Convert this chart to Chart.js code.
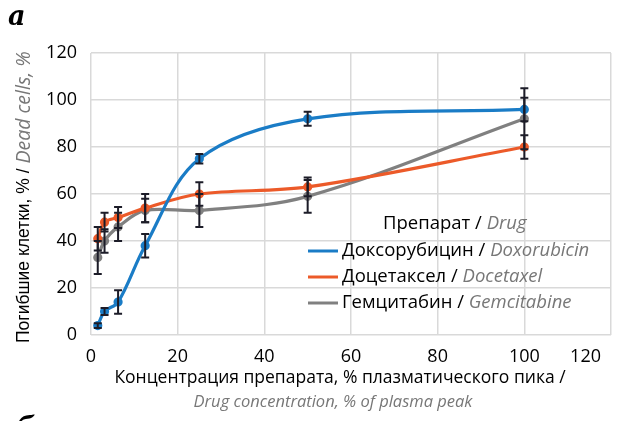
<!DOCTYPE html>
<html>
<head>
<meta charset="utf-8">
<script src="https://cdn.jsdelivr.net/npm/chart.js@4/dist/chart.umd.min.js"></script>
<style>
  html, body { margin: 0; padding: 0; background: #fff; }
  #wrap { width: 619px; height: 421px; position: relative; }
</style>
</head>
<body>
<div id="wrap"><canvas id="c" width="619" height="421"></canvas></div>
<script>
// Drug concentration, % of plasma peak (two-fold dilutions)
const concentrations = [1.56, 3.125, 6.25, 12.5, 25, 50, 100];

// Dead cells, % (mean) and error (±)
const doxorubicin    = [4, 10, 14, 38, 75, 92, 96];
const doxorubicinErr = [1, 1.5, 5, 5, 2, 3, 5];
const docetaxel      = [41, 48, 50, 54, 60, 63, 80];
const docetaxelErr   = [5, 4, 4.5, 6, 5, 4, 5];
const gemcitabine    = [33, 40, 46, 53, 53, 59, 92];
const gemcitabineErr = [7, 5, 6, 5, 7, 7, 13];

const xTicks = [0, 20, 40, 60, 80, 100, 120];
const yTicks = [0, 20, 40, 60, 80, 100, 120];

const seriesRu = ['Доксорубицин', 'Доцетаксел', 'Гемцитабин'];
const seriesEn = ['Doxorubicin', 'Docetaxel', 'Gemcitabine'];
const legendTitle = ['Препарат', 'Drug'];
const xTitleRu = 'Концентрация препарата, % плазматического пика /';
const xTitleEn = 'Drug concentration, % of plasma peak';
const yTitleRu = 'Погибшие клетки, % / ';
const yTitleEn = 'Dead cells, %';

const COLORS = ['#1a7cc6', '#ec5a29', '#808080'];
const GRAY_TEXT = '#777777';
const SANS = '"Open Sans", "Noto Sans", sans-serif';
const ARIAL = '"Liberation Sans", Arial, sans-serif';

const values = [doxorubicin, docetaxel, gemcitabine];
const errors = [doxorubicinErr, docetaxelErr, gemcitabineErr];

const datasets = values.map((vals, k) => ({
  label: seriesRu[k] + ' / ' + seriesEn[k],
  data: concentrations.map((x, i) => ({ x: x, y: vals[i] })),
  errors: errors[k],
  showLine: true,
  borderColor: COLORS[k],
  backgroundColor: COLORS[k],
  borderWidth: 3.2,
  pointRadius: 3,
  pointHoverRadius: 3,
  tension: 0.35
}));

// Draws a run of differently styled text pieces starting at x
function drawRuns(ctx, runs, x, y) {
  let cx = x;
  runs.forEach(r => {
    ctx.font = r.font;
    ctx.fillStyle = r.color;
    ctx.fillText(r.text, cx, y);
    cx += ctx.measureText(r.text).width;
  });
  return cx - x;
}

const errorBars = {
  id: 'errorBars',
  afterDatasetsDraw(chart) {
    const ctx = chart.ctx;
    const xs = chart.scales.x, ys = chart.scales.y;
    ctx.save();
    ctx.strokeStyle = '#1c1c28';
    ctx.lineWidth = 2;
    chart.data.datasets.forEach(ds => {
      ds.data.forEach((p, i) => {
        const e = ds.errors[i];
        const px = xs.getPixelForValue(p.x);
        const top = ys.getPixelForValue(p.y + e);
        const bot = ys.getPixelForValue(p.y - e);
        ctx.beginPath();
        ctx.moveTo(px, top); ctx.lineTo(px, bot);
        ctx.moveTo(px - 4, top); ctx.lineTo(px + 4, top);
        ctx.moveTo(px - 4, bot); ctx.lineTo(px + 4, bot);
        ctx.stroke();
      });
    });
    ctx.restore();
  }
};

const annotations = {
  id: 'annotations',
  afterDraw(chart) {
    const ctx = chart.ctx;
    const xs = chart.scales.x;
    const area = chart.chartArea;
    const W = chart.width;
    ctx.save();
    ctx.textBaseline = 'middle';

    // x tick labels, kept inside the canvas
    ctx.font = '18px ' + SANS;
    ctx.fillStyle = '#000';
    ctx.textAlign = 'left';
    xTicks.forEach(v => {
      const label = String(v);
      const w = ctx.measureText(label).width;
      let cx = xs.getPixelForValue(v);
      cx = Math.min(cx, W - 18 - w / 2);
      ctx.fillText(label, cx - w / 2, area.bottom + 22);
    });

    // x axis title (two lines)
    ctx.textAlign = 'center';
    ctx.font = '17.5px ' + SANS;
    ctx.fillStyle = '#000';
    ctx.fillText(xTitleRu, 340, 378);
    ctx.font = 'italic 16.5px ' + SANS;
    ctx.fillStyle = GRAY_TEXT;
    ctx.fillText(xTitleEn, 333, 402);

    // y axis title, rotated, read from bottom to top
    ctx.save();
    ctx.translate(24, 343);
    ctx.rotate(-Math.PI / 2);
    ctx.textAlign = 'left';
    drawRuns(ctx, [
      { text: yTitleRu, font: '17.5px ' + ARIAL, color: '#000' },
      { text: yTitleEn, font: 'italic 19.5px ' + SANS, color: GRAY_TEXT }
    ], 0, 0);
    ctx.restore();

    // legend
    ctx.textAlign = 'left';
    const legRu = '18.5px ' + SANS;
    const legEn = 'italic 18.5px ' + SANS;
    drawRuns(ctx, [
      { text: legendTitle[0] + ' / ', font: legRu, color: '#000' },
      { text: legendTitle[1], font: legEn, color: GRAY_TEXT }
    ], 383, 224);
    const rowY = [251, 277, 303];
    seriesRu.forEach((name, k) => {
      ctx.strokeStyle = COLORS[k];
      ctx.lineWidth = 3;
      ctx.beginPath();
      ctx.moveTo(308, rowY[k]); ctx.lineTo(338, rowY[k]);
      ctx.stroke();
      drawRuns(ctx, [
        { text: name + ' / ', font: legRu, color: '#000' },
        { text: seriesEn[k], font: legEn, color: GRAY_TEXT }
      ], 342, rowY[k]);
    });

    // panel letters
    ctx.font = 'bold italic 27px "DejaVu Serif", "Liberation Serif", serif';
    ctx.fillStyle = '#000';
    ctx.textBaseline = 'alphabetic';
    ctx.fillText('a', 8, 25);
    ctx.fillText('б', 16, 437);
    ctx.restore();
  }
};

new Chart(document.getElementById('c'), {
  type: 'scatter',
  data: { datasets: datasets },
  options: {
    responsive: false,
    animation: false,
    devicePixelRatio: 1,
    layout: { padding: { top: 53, right: 8, bottom: 0, left: 0 } },
    plugins: { legend: { display: false }, tooltip: { enabled: false } },
    scales: {
      x: {
        type: 'linear', min: 0, max: 120,
        ticks: { stepSize: 20, display: false },
        grid: { color: '#d9d9d9', lineWidth: 1.5, drawTicks: false },
        border: { display: false },
        afterFit(s) { s.height = 86; }
      },
      y: {
        type: 'linear', min: 0, max: 120,
        afterBuildTicks(s) { s.ticks = yTicks.map(v => ({ value: v })); },
        ticks: { padding: 14, color: '#000', font: { family: SANS, size: 18 } },
        grid: { color: '#d9d9d9', lineWidth: 1.5, drawTicks: false },
        border: { display: false },
        afterFit(s) { s.width = 91; }
      }
    }
  },
  plugins: [errorBars, annotations]
});
</script>
</body>
</html>
